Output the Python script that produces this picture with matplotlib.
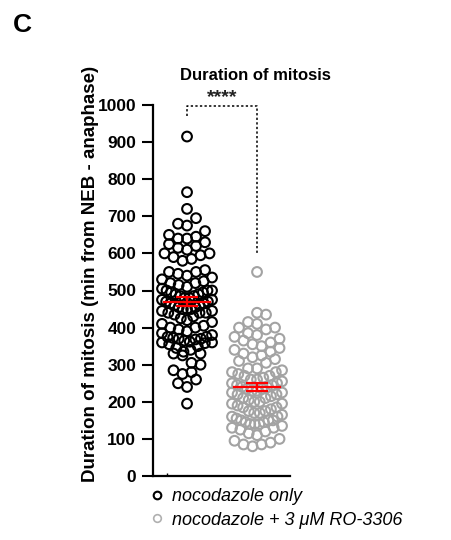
import numpy as np
import matplotlib
matplotlib.use("Agg")
import matplotlib.pyplot as plt
from matplotlib.lines import Line2D

plt.rcParams['font.family'] = ['Liberation Sans', 'DejaVu Sans']

groups = ["nocodazole only", "nocodazole + 3 \u03bcM RO-3306"]
noc_only = [915, 765, 720, 695, 680, 675, 660, 650, 645, 640, 640, 630, 625, 620, 615,
            610, 600, 600, 595, 590, 585, 580, 375, 372, 368, 362, 358, 555, 550, 550,
            545, 540, 535, 530, 525, 520, 520, 515, 510, 505, 500, 500, 500, 495, 495,
            490, 490, 485, 485, 480, 480, 475, 475, 470, 470, 465, 465, 460, 460, 455,
            455, 450, 450, 450, 445, 445, 440, 440, 440, 435, 430, 425, 420, 415, 410,
            405, 400, 400, 395, 390, 385, 380, 375, 370, 370, 365, 360, 360, 355, 350,
            345, 340, 335, 330, 330, 325, 305, 300, 285, 280, 275, 260, 250, 240, 195]
noc_ro = [550, 440, 435, 415, 410, 400, 400, 395, 385, 380, 375, 370, 365, 360, 355,
          350, 345, 340, 335, 330, 325, 320, 315, 310, 305, 150, 145, 140, 290, 290,
          285, 280, 280, 275, 270, 270, 265, 260, 260, 255, 250, 250, 245, 245, 240,
          240, 235, 235, 230, 230, 225, 225, 220, 220, 215, 210, 210, 205, 200, 200,
          195, 195, 190, 185, 185, 180, 175, 175, 170, 170, 165, 160, 160, 155, 150,
          150, 145, 140, 140, 135, 130, 130, 125, 120, 115, 110, 100, 95, 90, 85, 80, 85]
colors = ["black", "#a3a3a3"]
yticks = list(range(0, 1001, 100))

fig = plt.figure(figsize=(4.52, 5.40), dpi=100)
ax = fig.add_axes([153/452, 1 - 476/540, 137/452, 371/540])
ax.set_xlim(-0.486, 1.471)
ax.set_ylim(0, 1000)


def rows_layout(xc, vals, bin_px, spacing, maxoff):
    # GraphPad-like layout: points grouped into horizontal rows, spread centred
    pts = ax.transData.transform(np.column_stack([np.full(len(vals), xc), vals]))
    ypx = pts[:, 1]
    order = np.argsort(ypx)
    xs = np.zeros(len(vals))
    start = ypx[order[0]]
    rows, cur = [], []
    for i in order:
        if cur and ypx[i] - start > bin_px:
            rows.append(cur)
            cur = []
            start = ypx[i]
        cur.append(i)
    rows.append(cur)
    for r, row in enumerate(rows):
        n = len(row)
        sp = spacing if (n - 1) * spacing <= 2 * maxoff else 2 * maxoff / (n - 1)
        offs = (np.arange(n) - (n - 1) / 2) * sp
        if n % 2 == 0 and r % 2 == 1:
            offs = offs[::-1]
        srt = sorted(row, key=lambda j: ypx[j])
        for j, off in zip(srt, offs[np.argsort(np.abs(offs), kind='stable')]):
            xs[j] = pts[j, 0] + off
    data = ax.transData.inverted().transform(np.column_stack([xs, ypx]))
    return data[:, 0]


for gi, vals in enumerate([noc_only, noc_ro]):
    vals = np.array(vals, dtype=float)
    xs = rows_layout(gi, vals, 10.0, 9.0, 25)
    ax.scatter(xs, vals, s=(7.0) ** 2, facecolors='none', edgecolors=colors[gi],
               linewidths=1.5, zorder=3, clip_on=False)
    m = vals.mean()
    sem = vals.std(ddof=1) / np.sqrt(len(vals))
    ax.plot([gi - 0.335, gi + 0.335], [m, m], color='red', lw=1.6, zorder=5)
    ax.errorbar([gi], [m], yerr=[sem], color='red', capsize=8, capthick=1.6,
                elinewidth=1.6, zorder=5, fmt='none')

ax.spines['top'].set_visible(False)
ax.spines['right'].set_visible(False)
for s in ['left', 'bottom']:
    ax.spines[s].set_linewidth(1.6)
ax.set_yticks(yticks)
ax.set_yticklabels([str(t) for t in yticks], fontsize=12.5, fontweight='bold')
ax.tick_params(axis='y', length=8, width=1.5, pad=4)
ax.set_xticks([-0.29])
ax.set_xticklabels([''])
ax.tick_params(axis='x', length=2, width=1, direction='in')

fig.text(91/452, 1 - 274/540, "Duration of mitosis (min from NEB - anaphase)",
         fontsize=13.5, fontweight='bold', rotation=90, ha='center', va='center')
fig.text(255/452, 1 - 75/540, "Duration of mitosis", fontsize=12, fontweight='bold',
         ha='center', va='center')

# significance bracket
ax.plot([0, 0, 1, 1], [970, 997, 997, 600], color='black', lw=1.1, ls=(0, (1.5, 1.5)),
        clip_on=False)
ax.text(0.5, 997, "****", ha='center', va='bottom', fontsize=14, color='#222222',
        fontweight='bold', clip_on=False)

fig.text(13/452, 1 - 25/540, "C", fontsize=19, fontweight='bold', va='center', ha='left')

# legend
handles = [Line2D([], [], ls='none', marker='o', markersize=5.5, markerfacecolor='none',
                  markeredgecolor=colors[0], markeredgewidth=1.5),
           Line2D([], [], ls='none', marker='o', markersize=5.5, markerfacecolor='none',
                  markeredgecolor="#b0b0b0", markeredgewidth=1.2)]
leg = fig.legend(handles, groups, loc='center left', bbox_to_anchor=(146/452, 1 - 508.5/540),
                 frameon=False, prop={'style': 'italic', 'size': 13}, handlelength=1.2,
                 handletextpad=0.25, labelspacing=0.35, borderaxespad=0, borderpad=0)

fig.savefig("out.png", dpi=100)
